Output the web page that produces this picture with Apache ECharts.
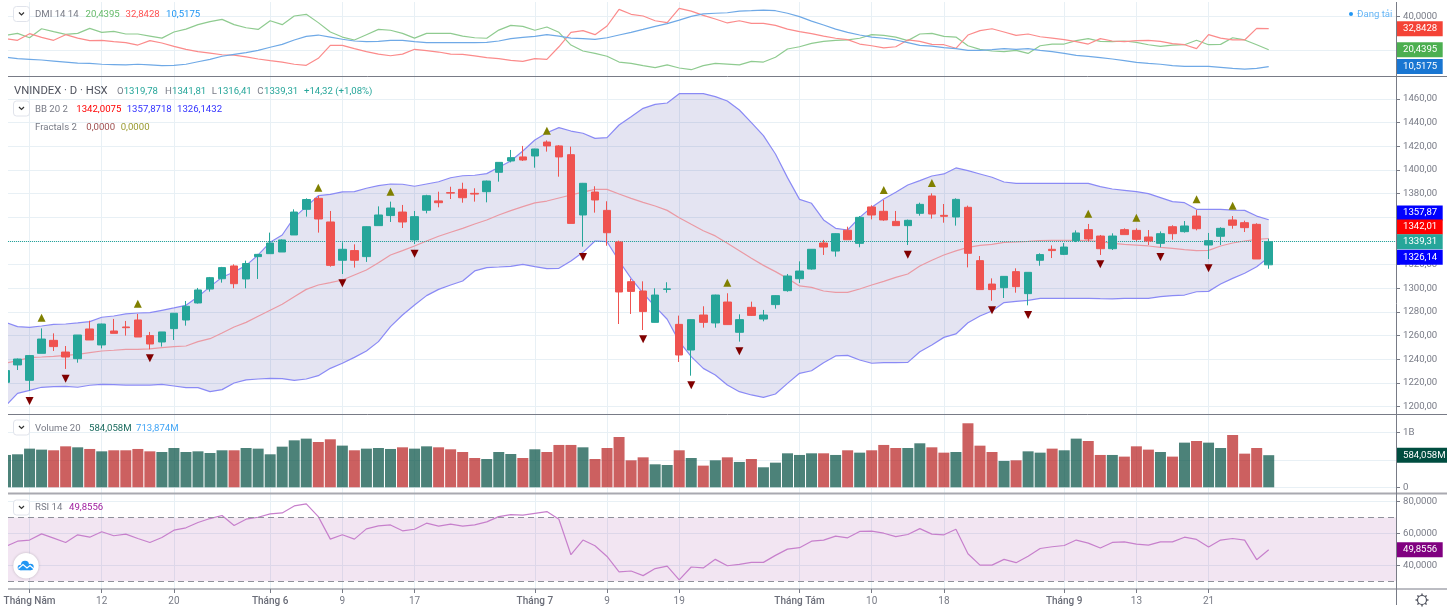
<!DOCTYPE html>
<html>
<head>
<meta charset="utf-8">
<title>VNINDEX</title>
<script src="https://cdn.jsdelivr.net/npm/echarts@6/dist/echarts.min.js"></script>
<style>
html, body { margin: 0; padding: 0; background: #fff; }
#main { width: 1454px; height: 610px; }
</style>
</head>
<body>
<div id="main"></div>
<script>
// x axis labels: bar index -> text
var tickIndex = [2, 8, 14, 22, 28, 34, 44, 50, 56, 66, 72, 78, 88, 94, 100];
var tickText = ['Tháng Năm', '12', '20', 'Tháng 6', '9', '17', 'Tháng 7', '9', '19', 'Tháng Tám', '10', '18', 'Tháng 9', '13', '21'];

var opens = [1220.4,1235.1,1222.1,1244.9,1255.9,1246,1240.4,1265.5,1252,1263.8,1267.2,1273.1,1259.9,1254.5,1265.8,1273.1,1287.5,1299.3,1308,1318.8,
  1307.8,1326.7,1329.2,1330.6,1345,1366.7,1376,1356,1323.6,1331.8,1326.7,1352.9,1361.4,1364.4,1340.8,1365.9,1373.8,1380.8,1383.6,1380.2,
  1381.6,1398,1407.6,1411,1411.8,1423.6,1420.3,1412.9,1361.9,1381.3,1365.8,1339.1,1305.5,1297.6,1271.1,1299,1269.4,1247.7,1277.3,1270.6,
  1288.3,1262.7,1283.8,1273.9,1286.1,1297.9,1308,1316.2,1338.2,1331.4,1349,1337.9,1368.7,1365,1356.5,1352.9,1363.3,1378,1361.6,1360.2,
  1368.4,1323.3,1303.5,1300.4,1314,1295.4,1323.6,1332.9,1328.6,1340.2,1349.5,1344.1,1333.4,1349.5,1348.9,1343.3,1337.9,1352,1347.8,1361,
  1336.5,1343.9,1357.7,1355.4,1354,1319.78];
var closes = [1230.3,1240.1,1243,1257,1250.6,1241.8,1260.4,1256.2,1269.7,1261.8,1266.6,1258.7,1252.8,1263,1278.8,1284.7,1298.5,1308.9,1317.4,1303.8,
  1320.8,1328.6,1338.2,1340.8,1364.4,1375,1358.5,1319.3,1332.9,1323.6,1352,1361.9,1367.8,1356,1360.5,1378.2,1372.3,1380.4,1376.5,1379.6,
  1390.6,1406.4,1410.4,1408.4,1417.7,1420.3,1411,1354.8,1388.7,1374.6,1346.9,1296.8,1297.3,1280.2,1294.2,1299.4,1243.5,1273.4,1271.1,1294.2,
  1269.2,1273.4,1277,1277.3,1293.7,1310.3,1314.5,1332.9,1334.8,1346.1,1341,1359.9,1361.9,1357.7,1352.9,1357.4,1370.9,1362.7,1360.8,1375.1,
  1329.5,1298.8,1298.8,1310,1301.3,1313.4,1328.4,1331.8,1334.8,1346.7,1341.6,1333.4,1344.1,1345.3,1341.3,1339.9,1346.1,1346.1,1352.6,1350.3,
  1340.2,1350.6,1353.2,1351.2,1324.7,1339.31];
var lows = [1218,1230.8,1213.4,1244.9,1246.9,1231.7,1237,1256.2,1249.1,1261.8,1259.9,1258.7,1248.3,1250.6,1256.2,1268.3,1287,1297.1,1304.7,1299.9,
  1299.9,1307.8,1329.2,1330.6,1345,1360.5,1347,1318.2,1312,1317.4,1322.2,1352.9,1356,1350.9,1337.4,1363.3,1368.4,1375.4,1372.3,1373.2,
  1372.6,1390.1,1406.4,1407.6,1401.9,1415.5,1394.3,1354.8,1335.1,1363.9,1335.9,1269.7,1278.2,1264.6,1271,1296.2,1237.6,1226,1266.6,1266.6,
  1269,1254.8,1276.5,1272,1282.7,1297,1304.4,1315.7,1328.1,1326.7,1341,1334.6,1358.2,1357,1352.9,1336.5,1361.3,1358.8,1355.4,1352.9,
  1317.6,1298.8,1289.4,1291.7,1296.2,1285.5,1319,1325.5,1328,1339,1339.6,1328.1,1332.3,1345.3,1339.9,1336.5,1334.6,1341,1347,1348.9,
  1324.7,1336.5,1350.3,1347.5,1324.7,1316.41];
var highs = [1232,1240.5,1243.5,1266,1261.8,1251.1,1260.4,1272.5,1270,1274,1272.3,1278.2,1263,1263,1279,1289.2,1300.2,1309.5,1318,1320.2,
  1323.3,1329,1347,1341.3,1366.7,1376,1378,1365.3,1338.8,1337.1,1352.3,1369.2,1373.2,1370.4,1365.3,1379,1381.6,1385.8,1389.2,1384.5,
  1391,1406.4,1416.9,1420.3,1417.9,1425,1421,1419.7,1389,1386.2,1373.5,1340.2,1308,1305.8,1299.9,1305,1276.8,1273.6,1284.7,1294.5,
  1295.7,1277.9,1288.6,1281.6,1294,1312,1322.7,1333,1340.8,1346.4,1352,1361,1370.1,1374.6,1365.3,1358,1372.3,1380.2,1371.2,1376,
  1369.8,1327.2,1308.3,1310.2,1316.8,1313.5,1329.5,1336.2,1338.2,1348.9,1354.3,1345,1346.4,1350.6,1350.6,1349.2,1348,1353.2,1356.8,1366.1,
  1346.7,1351.5,1361,1357.1,1354.9,1341.81];

var bbUpper = [1271.1,1267.5,1266.9,1268,1269.4,1269.7,1270.6,1271.7,1275.4,1276.5,1278.2,1279,1279.3,1281.3,1283.3,1285.5,1292.8,1301.3,1309.2,1313.7,
  1319.3,1328.1,1338.8,1345,1359.9,1369,1378.2,1379.4,1381.4,1381.6,1384.5,1386.7,1388.1,1387.9,1386.2,1388.1,1390,1393.4,1395.1,1395.5,
  1396.9,1402.2,1407.6,1416,1425.3,1431.5,1435.8,1432.9,1431,1426.7,1427.3,1438,1445,1452.1,1455.5,1456.6,1464.5,1464.5,1464.5,1462,
  1458.3,1450.7,1440,1429,1413.5,1393.5,1375.1,1371.8,1357.7,1350.6,1349.2,1359.9,1368.4,1375.4,1381.1,1387.3,1391,1394.9,1396.6,1401.7,
  1399.4,1396.6,1393.8,1389.8,1388.7,1388.7,1388.7,1388.7,1388.7,1388.7,1388.7,1385.9,1383.9,1382.8,1381.6,1380,1376.6,1373.2,1372.3,1366.7,
  1366.7,1366.7,1366.1,1365.8,1361,1357.87];
var bbMiddle = [1236.5,1238.7,1241.3,1241.8,1242.4,1243.2,1244.1,1245.5,1246.9,1247.5,1248.3,1248.3,1248.6,1249.7,1250.6,1251.1,1254.8,1257.3,1262.1,1267.2,
  1271.1,1276.2,1281.3,1286.4,1292.8,1299,1302.7,1304.7,1306.9,1311.2,1315.4,1321.6,1328.1,1331.8,1335.7,1339.9,1343.9,1347.3,1350.6,1354.3,
  1357.7,1361.9,1365.6,1369,1372.1,1373.7,1376.3,1378.8,1381.3,1383.6,1383.6,1379.7,1376,1372.6,1369.5,1365.8,1359.6,1354,1348.6,1344.2,
  1338,1331.7,1325.3,1319.3,1314,1308.3,1301.9,1300.7,1297.6,1296.5,1296.5,1299.3,1302.7,1305.8,1309.2,1312,1318.8,1323.6,1328.1,1331.5,
  1334.5,1336.2,1337.1,1338.8,1339.1,1339.6,1340.2,1340.5,1340.5,1340.5,1340.2,1339.6,1337.9,1337.1,1336.5,1335.7,1334.5,1333.7,1332.6,1331.7,
  1332,1335.7,1338.2,1339.9,1341.3,1342.01];
var bbLower = [1200.4,1211.1,1213.6,1216.2,1216.7,1217,1216.2,1217.9,1218.7,1218.4,1218.1,1218.1,1218.1,1218.7,1217.3,1215.9,1215.9,1212.5,1214.2,1219.8,
  1222.4,1223.2,1223.8,1223.5,1222.1,1223.2,1226,1232.2,1236.5,1241.5,1246.9,1254.8,1267.5,1277.3,1285.8,1293.7,1299,1302.7,1306.1,1314.6,
  1317.4,1317.9,1318.5,1320.2,1318.2,1316.5,1316.8,1323,1330.3,1339.9,1339.3,1323,1308.3,1295.7,1284.4,1273.7,1254.8,1242.1,1232.2,1226.6,
  1218.1,1212.5,1209.7,1207.7,1210.5,1219.5,1228,1230.2,1237,1242.7,1243.2,1239.3,1236.5,1237,1237,1237.3,1246.3,1252,1258.4,1261.3,
  1270.8,1276.5,1280.7,1287.8,1288.9,1289.7,1291.4,1291.4,1291.4,1291.4,1291.4,1291.1,1290.9,1291.4,1291.4,1291.4,1292.8,1293.7,1294.2,1297,
  1297.3,1303.5,1308.3,1312.6,1318.2,1326.14];

var fractalUpIndex = [3, 11, 26, 32, 45, 60, 73, 77, 90, 94, 99, 102];
var fractalUpValue = [1275, 1286.9, 1385, 1381.6, 1433.2, 1304.6, 1383, 1389, 1363, 1359.6, 1375.2, 1369.8];
var fractalDownIndex = [2, 5, 12, 28, 34, 48, 53, 57, 61, 75, 82, 85, 91, 96, 100];
var fractalDownValue = [1204.6, 1223.5, 1240.7, 1304.1, 1329.2, 1326.4, 1256.8, 1217.9, 1246.6, 1328.3, 1281.3, 1277.3, 1320.2, 1326.4, 1316.8];

// millions
var volume = [588,600,703,685,673,745,727,697,654,673,673,697,654,642,715,642,654,624,673,673,
  715,703,600,739,854,885,824,873,758,673,703,715,697,727,703,745,727,691,642,533,
  515,642,606,533,691,642,770,770,727,515,715,915,491,545,418,406,673,533,394,491,
  545,461,515,364,448,618,588,618,618,588,673,630,673,770,715,715,800,727,630,642,
  1164,757,642,479,491,654,630,703,673,885,842,588,588,558,745,685,642,558,812,842,
  812,715,951,612,715,584.058];

var rsi = [51.9,55.2,55.9,59.8,57.1,54.4,59.2,57.7,61.1,58.6,59.6,56.9,54.4,57.5,62.1,63.6,66.9,69.4,71.3,65,
  69,70.2,72.3,72.9,77.3,78.6,70.6,56.5,59.2,56.5,62.9,64.8,65.4,61.7,62.7,66.5,64.6,65.9,64.6,65.4,
  67.3,70.6,71.9,71.5,72.7,73.8,69,46.7,55.9,52.3,45.6,35.9,36.5,33.6,38,39.6,30.9,39,38.4,43.8,
  39.8,40.6,41.9,41.9,46.3,50.2,51.1,55.2,55.9,58.4,57.3,61.3,61.5,60.2,58.1,59.4,63.1,59.6,59.2,62.7,
  47.3,40.2,40.2,43.8,41.7,45.7,50.6,51.7,52.5,55.9,54,50.9,54.4,54.8,53.4,52.7,54.8,54.8,57.7,56.3,
  51.5,55.9,56.9,55.9,43.6,49.8556];

var diPlus = [28.9,30.1,27.5,32.8,31.1,29.5,30.1,33,30.7,31.3,29.7,29.7,28.5,27.3,30.9,32.6,35.2,37,38.3,35.2,
  33.4,32.4,37.5,35.2,40.3,41.3,36.4,30.9,27.9,26.2,29.3,32.4,31.9,30.1,27.3,30.1,30.1,30.1,28.5,27.5,
  27.2,32,34.8,34.2,31.9,33.8,30.7,23.2,19.7,18.3,16.6,13.2,12.4,11.1,9.9,11.5,9.7,8.7,11.1,12.4,
  12,11.5,13.6,13.2,16,20.9,22.2,24.2,25.4,26,26.2,27.2,29.3,28.9,27.9,25.8,29.7,30.1,28.3,27.9,
  22.8,20.7,19.7,19.3,20.1,18.3,22.8,23.8,23.8,25.8,27,25.4,25.2,25.6,24.8,23.4,22.4,23.2,23.4,26,
  23.4,23.6,27.5,26.2,23.4,20.4395];
var diMinus = [26.9,26,29.9,27.7,26,29.3,27.3,25.8,26,25.2,24.6,23.2,25.8,24.4,22.4,20.7,19.3,18.5,17.5,17.3,
  16.2,15,14,13.2,11.9,11.3,15.4,23,23,21.1,19.3,17.9,16.9,17.9,20.7,19.9,19.1,17.9,17.7,16.8,
  15.8,15.2,14.2,13.6,15.2,14.8,22.2,30.7,31.7,29.3,34.4,44.2,41.3,40.3,37.5,36.4,44.8,43.2,40.7,38.5,
  36.2,37.5,36,36,34.8,32.6,31.1,29.9,28.5,27.2,26.4,23.8,22.8,21.5,22.2,26.2,25.4,23.6,23.4,21.3,
  29.1,31.7,32.8,30.9,28.9,29.7,28.1,27.3,26.4,25.2,23.8,27,25.6,25.2,25.8,26,25.4,24,23.4,21.1,
  29.3,27.3,26.2,26.2,33,32.8428];
var adx = [16,15.2,14.8,14.4,13.8,13.2,12.6,12.4,11.9,11.7,11.5,11.9,11.5,11.1,11.3,11.9,13.4,14.8,16.6,17.7,
  18.7,20.1,21.9,23.6,26.2,28.3,29.1,27.9,26.6,25.6,25.2,25.4,26,26,25.2,24.6,24.6,24.6,24.6,24.6,
  24.8,25.6,27,27.7,28.3,29.3,28.5,27.3,27,26.6,27.5,29.1,30.7,32.4,34.2,35.8,37.9,40.1,41.5,41.9,
  42.2,43.2,43.4,43.8,43.4,41.9,39.9,37.3,35,32.6,30.7,29.1,27.9,27.2,26.2,24.6,23,22.6,21.7,21.1,
  20.1,20.1,20.5,21.1,20.7,21.1,20.1,19.3,18.3,17.1,16.6,15.8,15,14,13,12.4,11.9,11.1,10.7,10.7,
  10.7,10.1,9.5,9.1,9.5,10.5175];

var priceTicks = [1200,1220,1240,1260,1280,1300,1320,1340,1360,1380,1400,1420,1440,1460];
var dmiTicks = [20, 40];
var volumeTicks = [0, 500, 1000];
var rsiTicks = [40, 60, 80];

var UP = '#26a69a', DOWN = '#ef5350';
var GRID_COLOR = '#e8f0f5', AXIS_COLOR = '#787b86', DASH_COLOR = '#8f919b';
var FONT = 'Roboto, sans-serif';
var FS = 9.6;
var LINE_W = 1.2;

function pairs(ys) {
    return ys.map(function (y, i) { return [i, y]; });
}
function comma(v, n) {
    return v.toFixed(n).replace('.', ',');
}

// price tag in the right scale, dy moves it off its neighbour like the original does
function tag(text, value, bg, dy, line, boxWidth) {
    return {
        yAxis: value,
        lineStyle: line || { color: 'transparent', width: 1 },
        label: {
            show: true, position: 'end', distance: 0, formatter: text, color: '#fff',
            fontFamily: FONT, fontSize: FS, backgroundColor: bg, padding: [3, 0, 2, 7],
            width: boxWidth || 39.7, overflow: 'none',
            offset: [0, dy || 0], opacity: 1
        }
    };
}
function tagLine(tags) {
    return { symbol: 'none', silent: true, animation: false, precision: 4, data: tags };
}

function lineSeries(name, ys, color, gridIdx, extra) {
    var s = {
        name: name, type: 'line', data: pairs(ys), xAxisIndex: gridIdx, yAxisIndex: gridIdx,
        showSymbol: false, silent: true, lineStyle: { color: color, width: LINE_W }, z: 3
    };
    for (var k in extra) s[k] = extra[k];
    return s;
}

var candleData = opens.map(function (o, i) { return [i, o, closes[i], lows[i], highs[i]]; });
var volumeData = volume.map(function (v, i) {
    return {
        value: [i, v],
        itemStyle: { color: closes[i] >= opens[i] ? 'rgba(0,77,64,0.7)' : 'rgba(183,28,28,0.7)' }
    };
});

var panes = [
    { top: 2, height: 74, min: 5, max: 48.53, ticks: dmiTicks, fmt: function (v) { return comma(v, 4); } },
    { top: 77, height: 337, min: 1193.6, max: 1478.6, ticks: priceTicks, fmt: function (v) { return comma(v, 2); } },
    { top: 415, height: 78, min: -103.6, max: 1314.5, ticks: volumeTicks, fmt: function (v) { return v === 0 ? '0' : v >= 1000 ? '1B' : v + 'M'; } },
    { top: 494, height: 95, min: 25.2, max: 84.8, ticks: rsiTicks, fmt: function (v) { return comma(v, 4); } }
];

var grids = [], xAxes = [], yAxes = [];
panes.forEach(function (p, idx) {
    var last = idx === panes.length - 1;
    grids.push({ left: 8, right: 58, top: p.top, height: p.height, show: false });
    xAxes.push({
        type: 'value', gridIndex: idx, min: 0.208, max: 115.58,
        axisLine: { show: false },
        axisTick: { show: last, customValues: tickIndex, length: 4, lineStyle: { color: AXIS_COLOR } },
        splitLine: { show: true, lineStyle: { color: GRID_COLOR, width: 1 } },
        axisLabel: {
            show: last, customValues: tickIndex, margin: 7, hideOverlap: false,
            showMinLabel: true, showMaxLabel: true,
            color: AXIS_COLOR, fontFamily: FONT, fontSize: FS + 0.4,
            formatter: function (v) {
                var t = tickText[tickIndex.indexOf(v)];
                return t.indexOf('Tháng') === 0 ? '{m|' + t + '}' : t;
            },
            rich: { m: { fontWeight: 500, color: '#6a6d78', fontFamily: FONT, fontSize: FS + 0.4 } }
        }
    });
    yAxes.push({
        type: 'value', gridIndex: idx, position: 'right', min: p.min, max: p.max,
        axisLine: { show: false },
        axisTick: { show: true, customValues: p.ticks, length: 4, lineStyle: { color: AXIS_COLOR } },
        splitLine: { show: true, lineStyle: { color: GRID_COLOR, width: 1 } },
        axisLabel: {
            customValues: p.ticks, margin: 7, color: AXIS_COLOR, fontFamily: FONT, fontSize: FS,
            showMinLabel: true, showMaxLabel: true, formatter: p.fmt
        }
    });
});

var series = [
    // DMI
    lineSeries('+DI', diPlus, '#8fcb90', 0),
    lineSeries('-DI', diMinus, '#fb8b8b', 0),
    lineSeries('ADX', adx, '#6fa9e6', 0, {
        markLine: tagLine([
            tag('32,8428', 32.8428, '#f44336'),
            tag('20,4395', 20.4395, '#4caf50'),
            tag('10,5175', 10.5175, '#1976d2')
        ])
    }),
    // bollinger band fill, one polygon from the two band lines
    {
        name: 'BB fill', type: 'custom', xAxisIndex: 1, yAxisIndex: 1, silent: true, z: 2,
        data: [[0, bbLower[0]]],
        encode: { x: 0, y: 1 },
        renderItem: function (params, api) {
            var points = [];
            bbUpper.forEach(function (v, i) { points.push(api.coord([i, v])); });
            for (var i = bbLower.length - 1; i >= 0; i--) points.push(api.coord([i, bbLower[i]]));
            return { type: 'polygon', shape: { points: points }, style: { fill: 'rgba(33,33,150,0.12)' } };
        }
    },
    lineSeries('BB upper', bbUpper, '#8a8af5', 1),
    lineSeries('BB middle', bbMiddle, '#ea9aa4', 1),
    lineSeries('BB lower', bbLower, '#8a8af5', 1),
    {
        name: 'VNINDEX', type: 'candlestick', data: candleData, xAxisIndex: 1, yAxisIndex: 1,
        barWidth: 8, silent: true, z: 5,
        itemStyle: { color: UP, color0: DOWN, borderColor: UP, borderColor0: DOWN, borderWidth: 1 },
        markLine: tagLine([
            tag('1357,87', 1357.87, '#0000ff', -6.8),
            tag('1342,01', 1342.01, '#ff0000', -11.5),
            tag('1339,31', 1339.31, UP, 0, { color: UP, type: 'dotted', width: 1 }),
            tag('1326,14', 1326.14, '#0000ff')
        ])
    },
    {
        name: 'Fractal up', type: 'scatter', xAxisIndex: 1, yAxisIndex: 1, silent: true, z: 6,
        data: fractalUpIndex.map(function (x, i) { return [x, fractalUpValue[i]]; }),
        symbol: 'triangle', symbolSize: [8, 8], itemStyle: { color: '#808000', opacity: 1 }
    },
    {
        name: 'Fractal down', type: 'scatter', xAxisIndex: 1, yAxisIndex: 1, silent: true, z: 6,
        data: fractalDownIndex.map(function (x, i) { return [x, fractalDownValue[i]]; }),
        symbol: 'triangle', symbolRotate: 180, symbolSize: [8, 8], itemStyle: { color: '#800000', opacity: 1 }
    },
    // volume
    {
        name: 'Volume', type: 'bar', data: volumeData, xAxisIndex: 2, yAxisIndex: 2,
        barWidth: 11, silent: true,
        markLine: tagLine([tag('584,058M', 584.058, '#004d40', 0, null, 44)])
    },
    // RSI
    lineSeries('RSI', rsi, '#c780cc', 3, {
        markArea: {
            silent: true, animation: false,
            itemStyle: { color: 'rgba(128,0,128,0.1)' },
            data: [[{ yAxis: 70 }, { yAxis: 30 }]]
        },
        markLine: {
            symbol: 'none', silent: true, animation: false, precision: 4,
            data: [
                { yAxis: 70, lineStyle: { color: DASH_COLOR, type: [6, 4], width: 1 }, label: { show: false } },
                { yAxis: 30, lineStyle: { color: DASH_COLOR, type: [6, 4], width: 1 }, label: { show: false } },
                tag('49,8556', 49.8556, '#800080')
            ]
        }
    })
];

// pane separators, scale line, legends
function hr(y, x2, color, width) {
    return { type: 'line', z: 20, silent: true, shape: { x1: 8, y1: y, x2: x2, y2: y }, style: { stroke: color, lineWidth: width || 1 } };
}
function txt(x, y, s, color, size) {
    return {
        type: 'text', z: 30, silent: true, x: x, y: y + 0.7,
        style: { text: s, fill: color, font: (size || FS) + 'px ' + FONT, verticalAlign: 'middle' }
    };
}
function chevronButton(y) {
    return [
        { type: 'rect', z: 30, silent: true, shape: { x: 13.5, y: y, width: 16, height: 15, r: 3 }, style: { fill: '#fff', stroke: '#e0e3eb', lineWidth: 1 } },
        { type: 'polyline', z: 31, silent: true, shape: { points: [[19, y + 6], [21.5, y + 8.5], [24, y + 6]] }, style: { stroke: '#333', lineWidth: 1.2, fill: 'none' } }
    ];
}
function disc(cx, cy, r, z, style) {
    return { type: 'circle', z: z, silent: true, shape: { cx: cx, cy: cy, r: r }, style: style };
}
var TEXT = '#787b86';
var gear = [];
for (var a = 0; a < 8; a++) {
    var ang = a * Math.PI / 4;
    gear.push({
        type: 'line', z: 30, silent: true,
        shape: { x1: 1422 + 4.5 * Math.cos(ang), y1: 600 + 4.5 * Math.sin(ang), x2: 1422 + 6.5 * Math.cos(ang), y2: 600 + 6.5 * Math.sin(ang) },
        style: { stroke: '#50535e', lineWidth: 1.4 }
    });
}

var graphics = [
    // the chart is scrolled, so bars past the left edge are cut off here
    { type: 'rect', z: 10, silent: true, shape: { x: 0, y: 0, width: 8, height: 590 }, style: { fill: '#fff' } },
    hr(76.5, 1447, AXIS_COLOR),
    hr(414.5, 1447, AXIS_COLOR),
    hr(493.5, 1447, '#a9a9b0', 2),
    hr(589, 1447, AXIS_COLOR),
    { type: 'line', z: 20, silent: true, shape: { x1: 1396.5, y1: 2, x2: 1396.5, y2: 605 }, style: { stroke: AXIS_COLOR, lineWidth: 1 } },

    txt(35, 13.5, 'DMI 14 14', TEXT),
    txt(85.5, 13.5, '20,4395', '#66bb6a'),
    txt(125.5, 13.5, '32,8428', '#ff5252'),
    txt(166, 13.5, '10,5175', '#2196f3'),

    txt(14, 90, 'VNINDEX · D · HSX', '#50535e', 11.3),
    txt(117, 90.5, 'O', TEXT), txt(123.7, 90.5, '1319,78', UP),
    txt(165, 90.5, 'H', TEXT), txt(172, 90.5, '1341,81', UP),
    txt(211.7, 90.5, 'L', TEXT), txt(217.5, 90.5, '1316,41', UP),
    txt(257.3, 90.5, 'C', TEXT), txt(264, 90.5, '1339,31', UP),
    txt(304, 90.5, '+14,32 (+1,08%)', UP),

    txt(35, 108.7, 'BB 20 2', TEXT),
    txt(76.3, 108.7, '1342,0075', '#ff0000'),
    txt(126.7, 108.7, '1357,8718', '#3333ff'),
    txt(177, 108.7, '1326,1432', '#3333ff'),

    txt(35, 127, 'Fractals 2', TEXT),
    txt(86.3, 127, '0,0000', '#a05050'),
    txt(120.7, 127, '0,0000', '#9a9a30'),

    txt(35, 427.5, 'Volume 20', TEXT),
    txt(89, 427.5, '584,058M', '#1a6b5e'),
    txt(136, 427.5, '713,874M', '#42a5f5'),

    txt(35, 507, 'RSI 14', TEXT),
    txt(69, 507, '49,8556', '#a020a0'),

    disc(1351, 14, 2, 30, { fill: '#2196f3' }),
    txt(1357, 14, 'Đang tải', '#64b5f6'),

    // logo
    disc(26, 565.7, 12.7, 30, { fill: '#fff', shadowBlur: 3, shadowColor: 'rgba(0,0,0,0.2)' }),
    disc(20.5, 567.5, 2.8, 31, { fill: '#2196f3' }),
    disc(25, 564.7, 4, 31, { fill: '#2196f3' }),
    disc(30.5, 567, 3.2, 31, { fill: '#2196f3' }),
    { type: 'rect', z: 31, silent: true, shape: { x: 20.5, y: 566, width: 10, height: 4.3 }, style: { fill: '#2196f3' } },
    { type: 'polyline', z: 32, silent: true, shape: { points: [[18.5, 568.5], [23, 564.5], [27, 568], [30, 565.5], [34, 569]] }, style: { stroke: '#fff', lineWidth: 1.2, fill: 'none' } },

    disc(1422, 600, 4.5, 30, { fill: '#fff', stroke: '#50535e', lineWidth: 1.2 })
].concat(gear, chevronButton(6.5), chevronButton(101), chevronButton(420), chevronButton(500));

var chart = echarts.init(document.getElementById('main'));
chart.setOption({
    animation: false,
    backgroundColor: '#fff',
    tooltip: { show: false },
    grid: grids,
    xAxis: xAxes,
    yAxis: yAxes,
    series: series,
    graphic: graphics
});
</script>
</body>
</html>
